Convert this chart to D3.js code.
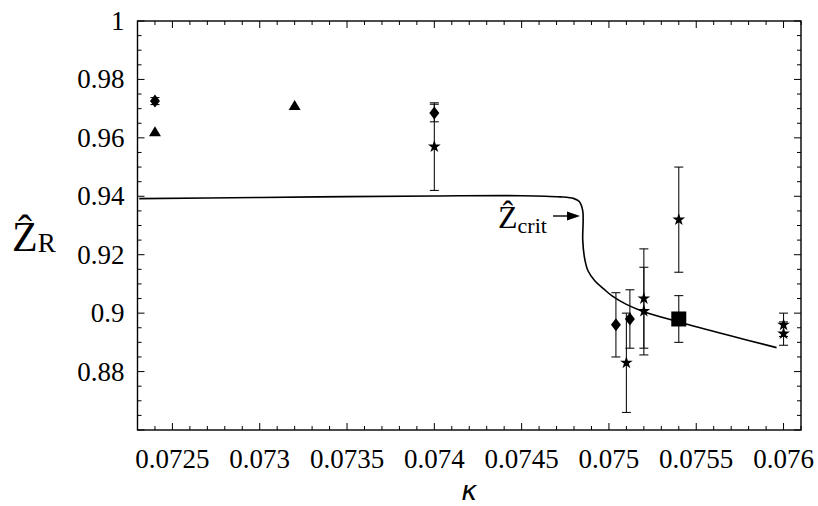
<!DOCTYPE html>
<html>
<head>
<meta charset="utf-8">
<script src="https://cdn.jsdelivr.net/npm/d3@7"></script>
<style>
    body { margin: 0; background: #fff; }
    svg { display: block; }
</style>
</head>
<body>
<svg id="chart"></svg>
<script>
// Data.
const xTicks = [0.0725, 0.073, 0.0735, 0.074, 0.0745, 0.075, 0.0755, 0.076];
const yTicks = [0.88, 0.9, 0.92, 0.94, 0.96, 0.98, 1];

const starPoints = [
    { k: 0.074, z: 0.957, err: 0.015 },
    { k: 0.0751, z: 0.883, err: 0.017 },
    { k: 0.0752, z: 0.905, err: 0.017 },
    { k: 0.0752, z: 0.9007, err: 0.015 },
    { k: 0.0754, z: 0.932, err: 0.018 },
    { k: 0.076, z: 0.896, err: 0.004 },
    { k: 0.076, z: 0.893, err: 0.004 },
];
const diamondPoints = [
    { k: 0.0724, z: 0.9726, err: 0.0012 },
    { k: 0.074, z: 0.9685, err: 0.003 },
    { k: 0.07504, z: 0.896, err: 0.011 },
    { k: 0.07512, z: 0.898, err: 0.01 },
];
const trianglePoints = [
    { k: 0.0724, z: 0.9621 },
    { k: 0.0732, z: 0.9711 },
];
const squarePoints = [{ k: 0.0754, z: 0.898, err: 0.008 }];

// Critical curve.
const curveK = [0.07231, 0.073, 0.0735, 0.074, 0.0745, 0.07472, 0.0748, 0.07483, 0.07485, 0.07485, 0.07486,
    0.07488, 0.07492, 0.07497, 0.07502, 0.0751, 0.0752, 0.0754, 0.07568, 0.07596];
const curveZ = [0.9392, 0.9396, 0.9399, 0.9401, 0.9402, 0.9398, 0.9392, 0.9382, 0.935, 0.925, 0.919,
    0.9145, 0.911, 0.9083, 0.9058, 0.903, 0.9005, 0.897, 0.8925, 0.8882];

const serif = "'Liberation Serif', 'Times New Roman', Times, serif";

// Chart dimensions.
const width = 818;
const height = 506;
const marginLeft = 137.5;
const marginRight = 17;
const marginTop = 21;
const marginBottom = 76;

const x = d3.scaleLinear().domain([0.0723, 0.0761]).range([marginLeft, width - marginRight]);
const y = d3.scaleLinear().domain([0.86, 1]).range([height - marginBottom, marginTop]);

const svg = d3.select('#chart').attr('width', width).attr('height', height);

const xMinor = d3.range(0, 39).map(i => 0.0723 + i * 0.0001);
const yMinor = d3.range(0, 29).map(i => 0.86 + i * 0.005);
const isMajorX = v => Math.abs(v / 0.0005 - Math.round(v / 0.0005)) < 1e-6;
const isMajorY = v => Math.abs(v / 0.02 - Math.round(v / 0.02)) < 1e-6;

// Ticks pointing inward on all four sides.
const tickG = svg.append('g').attr('stroke', '#000').attr('stroke-width', 1);
xMinor.forEach(v => {
    const len = isMajorX(v) ? 7 : 4;
    tickG.append('line').attr('x1', x(v)).attr('x2', x(v)).attr('y1', y.range()[0]).attr('y2', y.range()[0] - len);
    tickG.append('line').attr('x1', x(v)).attr('x2', x(v)).attr('y1', y.range()[1]).attr('y2', y.range()[1] + len);
});
yMinor.forEach(v => {
    const len = isMajorY(v) ? 7 : 4;
    tickG.append('line').attr('y1', y(v)).attr('y2', y(v)).attr('x1', x.range()[0]).attr('x2', x.range()[0] + len);
    tickG.append('line').attr('y1', y(v)).attr('y2', y(v)).attr('x1', x.range()[1]).attr('x2', x.range()[1] - len);
});

// Frame.
svg.append('rect')
    .attr('x', marginLeft)
    .attr('y', marginTop)
    .attr('width', width - marginRight - marginLeft)
    .attr('height', height - marginBottom - marginTop)
    .attr('fill', 'none')
    .attr('stroke', '#000')
    .attr('stroke-width', 1.4);

// Tick labels.
svg.append('g')
    .selectAll('text')
    .data(xTicks)
    .join('text')
    .attr('x', d => x(d))
    .attr('y', height - marginBottom + 38)
    .attr('text-anchor', 'middle')
    .attr('font-family', serif)
    .attr('font-size', 27)
    .text(d => String(d));

svg.append('g')
    .selectAll('text')
    .data(yTicks)
    .join('text')
    .attr('x', marginLeft - 13)
    .attr('y', d => y(d) + 9)
    .attr('text-anchor', 'end')
    .attr('font-family', serif)
    .attr('font-size', 27)
    .text(d => String(d));

// Axis labels.
svg.append('text')
    .attr('x', (marginLeft + width - marginRight) / 2)
    .attr('y', height - 6)
    .attr('text-anchor', 'middle')
    .attr('font-size', 27)
    .attr('font-style', 'italic')
    .attr('font-family', "'DejaVu Sans', sans-serif")
    .text('κ');

const yLabel = svg.append('text').attr('x', 12).attr('y', 251).attr('font-family', serif).attr('font-size', 42);
yLabel.append('tspan').text('Ẑ');
yLabel.append('tspan').attr('font-size', 27).attr('dy', 1).text('R');

// Curve.
const line = d3.line()
    .x(i => x(curveK[i]))
    .y(i => y(curveZ[i]))
    .curve(d3.curveCatmullRom);
svg.append('path')
    .attr('d', line(d3.range(curveK.length)))
    .attr('fill', 'none')
    .attr('stroke', '#000')
    .attr('stroke-width', 1.6);

// Annotation.
const ann = svg.append('text').attr('x', 498).attr('y', 228).attr('font-family', serif).attr('font-size', 32);
ann.append('tspan').text('Ẑ');
ann.append('tspan').attr('font-size', 22).attr('dy', 5).text('crit');
svg.append('line')
    .attr('x1', 553).attr('y1', 216).attr('x2', 570).attr('y2', 216)
    .attr('stroke', '#000').attr('stroke-width', 1.4);
svg.append('path').attr('d', 'M580,216 L567,211.5 L567,220.5 Z').attr('fill', '#000');

// Error bars.
const errG = svg.append('g').attr('stroke', '#111').attr('stroke-width', 1.1);
[...starPoints, ...diamondPoints, ...squarePoints].forEach(d => {
    const cx = x(d.k);
    errG.append('line').attr('x1', cx).attr('x2', cx).attr('y1', y(d.z - d.err)).attr('y2', y(d.z + d.err));
    [d.z - d.err, d.z + d.err].forEach(v => {
        errG.append('line').attr('x1', cx - 4.5).attr('x2', cx + 4.5).attr('y1', y(v)).attr('y2', y(v));
    });
});

// Markers.
const star = d3.symbol().type(d3.symbolStar).size(50);
svg.append('g')
    .selectAll('path')
    .data(starPoints)
    .join('path')
    .attr('transform', d => `translate(${x(d.k)},${y(d.z)})`)
    .attr('d', star());

svg.append('g')
    .selectAll('path')
    .data(diamondPoints)
    .join('path')
    .attr('transform', d => `translate(${x(d.k)},${y(d.z)})`)
    .attr('d', 'M0,-6.5 L5,0 L0,6.5 L-5,0 Z');

svg.append('g')
    .selectAll('path')
    .data(trianglePoints)
    .join('path')
    .attr('transform', d => `translate(${x(d.k)},${y(d.z)})`)
    .attr('d', 'M0,-5.5 L6,4.5 L-6,4.5 Z');

svg.append('g')
    .selectAll('rect')
    .data(squarePoints)
    .join('rect')
    .attr('x', d => x(d.k) - 7.5)
    .attr('y', d => y(d.z) - 7.5)
    .attr('width', 15)
    .attr('height', 15);
</script>
</body>
</html>
